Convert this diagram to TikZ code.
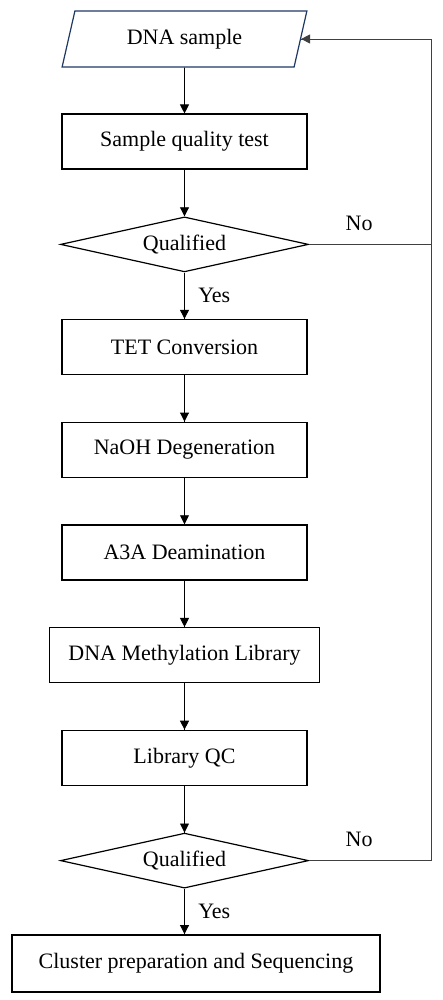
\documentclass[tikz,border=0pt]{standalone}
\usepackage{fontspec}
\setmainfont{Liberation Serif}
\usepackage{tikz}
\usetikzlibrary{arrows.meta,shapes.geometric,decorations.markings}
\definecolor{iodark}{RGB}{31,56,100}
\tikzstyle{process} = [rectangle, minimum width=245pt, minimum height=55pt, text centered, draw=black, line width=1.5pt, fill=white]
\tikzstyle{ioput} = [trapezium, trapezium left angle=75, trapezium right angle=105, trapezium stretches=true, minimum width=245pt, minimum height=56pt, text centered, draw=iodark, line width=1.2pt, fill=white]
\tikzstyle{decision} = [diamond, aspect=4.5, minimum width=248pt, minimum height=55pt, inner sep=0pt, text centered, draw=black, line width=1.2pt, fill=white]

\begin{document}
\begin{tikzpicture}[node distance=102.7pt, font=\rmfamily\fontsize{22}{26}\selectfont]
    \tikzset{flowptr/.style={line width=0.9pt, decoration={markings,mark=at position 1 with %
    {\arrow{Triangle[length=9pt,width=9pt]}}},postaction={decorate}}}
    \useasboundingbox (0,0) rectangle (443pt,-1000pt);
    \node (dna) [ioput] at (184.5pt,-39pt) {DNA sample};
    \node (sqt) [process, below of=dna] {Sample quality test};
    \node (qual1) [decision, below of=sqt] {Qualified};
    \node (tet) [process, below of=qual1] {TET Conversion};
    \node (naoh) [process, below of=tet] {NaOH Degeneration};
    \node (a3a) [process, below of=naoh] {A3A Deamination};
    \node (lib) [process, below of=a3a, minimum width=270pt] {DNA Methylation Library};
    \node (libqc) [process, below of=lib] {Library QC};
    \node (qual2) [decision, below of=libqc] {Qualified};
    \node (seq) [process, below of=qual2, xshift=11.5pt, minimum width=368pt, minimum height=57pt] {Cluster preparation and Sequencing};

    \draw[flowptr] (dna.south) -- (sqt.north);
    \draw[flowptr] (sqt.south) -- (qual1.north);
    \draw[flowptr] (qual1.south) -- node[midway, right=10pt] (yes1) {Yes} (tet.north);
    \draw[flowptr] (tet.south) -- (naoh.north);
    \draw[flowptr] (naoh.south) -- (a3a.north);
    \draw[flowptr] (a3a.south) -- (lib.north);
    \draw[flowptr] (lib.south) -- (libqc.north);
    \draw[flowptr] (libqc.south) -- (qual2.north);
    \draw[flowptr] (qual2.south) -- node[midway, right=10pt] (yes2) {Yes} (qual2.south |- seq.north);

    % back to the sample when not qualified
    \path (qual2.east) ++(122pt,0) coordinate (loopbot);
    \draw[flowptr, draw=black!75] (qual2.east) -- node[pos=0.41, above=10pt] (no2) {No} (loopbot) |- (dna.east);
    \draw[line width=0.9pt, draw=black!75] (qual1.east) -- node[pos=0.41, above=10pt] (no1) {No} (qual1.east -| loopbot);
\end{tikzpicture}
\end{document}
